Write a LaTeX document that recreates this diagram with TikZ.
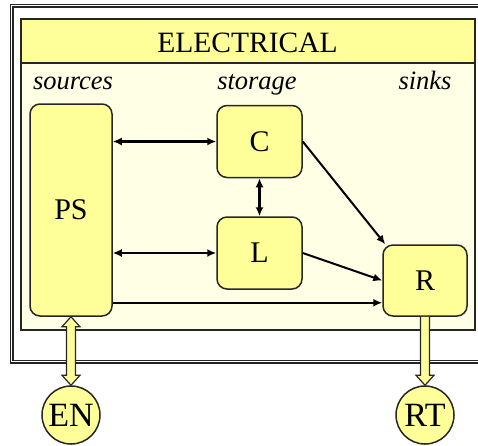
\documentclass[tikz,border=0pt]{standalone}
\usepackage{fontspec}
\setmainfont{Liberation Serif}
\usetikzlibrary{arrows.meta,positioning,calc}
\definecolor{Butter}{HTML}{FFFF99}
\definecolor{Cream}{HTML}{FFFFE6}
\definecolor{Ink}{HTML}{262626}

\begin{document}
\begin{tikzpicture}[x=1pt,y=-1pt,
 block/.style={rounded corners=10pt,draw=Ink,line width=1.5pt,fill=Butter,inner sep=0pt,font=\fontsize{30}{33}\selectfont},
 port/.style={circle,draw=Ink,line width=1.5pt,fill=Butter,minimum size=58pt,inner sep=0pt,font=\fontsize{34}{38}\selectfont},
 role/.style={anchor=base,font=\fontsize{26.5}{30}\selectfont\itshape},
 flow/.style={-{Latex[length=9pt,width=8pt]},line width=2pt,draw=black},
 twoway/.style={{Latex[length=9pt,width=8pt]}-{Latex[length=9pt,width=8pt]},line width=2.2pt,draw=black},
 bulk/.style={draw=Ink,fill=Butter,line width=1.2pt,line join=miter}]
 \useasboundingbox (0,0) rectangle (478,445);
 % frames
 \draw[double,double distance=1.6pt,line width=1.2pt,draw=Ink] (11.5,5.5) rectangle (500,361.5);
 \draw[line width=1.6pt,draw=Ink,fill=Cream] (21,19) rectangle (475,330);
 \draw[line width=1.6pt,draw=Ink,fill=Butter] (21,19) rectangle (475,63);
 \node[anchor=base,font=\fontsize{29.5}{33}\selectfont](title) at (247.5,52){ELECTRICAL};
 \node[role](sources) at (73,89){sources};
 \node[role](storage) at (257,89){storage};
 \node[role](sinks) at (425,89){sinks};
 % blocks
 \node[block,minimum width=82pt,minimum height=212pt](PS) at (71,210){PS};
 \node[block,minimum width=85pt,minimum height=72pt](C) at (259.5,141.5){C};
 \node[block,minimum width=85pt,minimum height=72pt,below=38pt of C](L){L};
 \node[block,minimum width=84pt,minimum height=71pt](R) at (425,280.5){R};
 \node[port](EN) at (71,415){EN};
 \node[port](RT) at (425,415){RT};
 % connectors
 \draw[twoway](C.west -| PS.east)--(C.west);
 \draw[twoway](L.west -| PS.east)--(L.west);
 \draw[twoway](C.south)--(L.north);
 \draw[flow](C.east)--([xshift=3pt]R.north west);
 \draw[flow](L.east)--(R.west);
 \draw[flow]([yshift=14pt]PS.south east)--([yshift=14pt]R.south west);
 % hollow bulk arrows
 \draw[bulk](PS.south)--++(9,10)--++(-4.5,0)--($(EN.north)+(4.5,-10)$)--++(4.5,0)--(EN.north)
  --++(-9,-10)--++(4.5,0)--($(PS.south)+(-4.5,10)$)--++(-4.5,0)--cycle;
 \draw[bulk]($(R.south)+(4.5,0)$)--($(RT.north)+(4.5,-10)$)--++(4.5,0)--(RT.north)
  --++(-9,-10)--++(4.5,0)--($(R.south)+(-4.5,0)$);
\end{tikzpicture}
\end{document}
